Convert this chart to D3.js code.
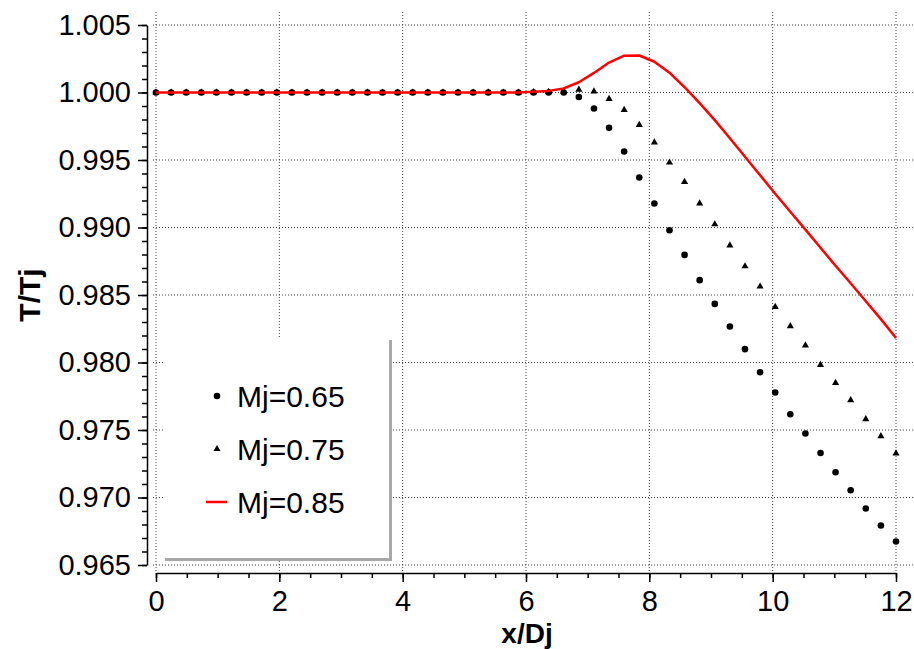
<!DOCTYPE html>
<html>
<head>
<meta charset="utf-8">
<script src="https://cdn.jsdelivr.net/npm/d3@7"></script>
<style>
    body { margin: 0; background: #ffffff; }
    svg { display: block; font-family: Arial, "Liberation Sans", sans-serif; }
</style>
</head>
<body>
<svg id="chart" width="914" height="649"></svg>
<script>
// Sample positions along the jet axis (same for all three cases)
const xPos = [
    0, 0.245, 0.490, 0.735, 0.980, 1.224, 1.469, 1.714, 1.959, 2.204,
    2.449, 2.694, 2.939, 3.184, 3.429, 3.673, 3.918, 4.163, 4.408, 4.653,
    4.898, 5.143, 5.388, 5.633, 5.878, 6.122, 6.367, 6.612, 6.857, 7.102,
    7.347, 7.592, 7.837, 8.082, 8.327, 8.571, 8.816, 9.061, 9.306, 9.551,
    9.796, 10.041, 10.286, 10.531, 10.776, 11.020, 11.265, 11.510, 11.755, 12.000
];

// T/Tj for Mj=0.65 (circles)
const mj065 = [
    1.0000, 1.0000, 1.0000, 1.0000, 1.0000, 1.0000, 1.0000, 1.0000, 1.0000, 1.0000,
    1.0000, 1.0000, 1.0000, 1.0000, 1.0000, 1.0000, 1.0000, 1.0000, 1.0000, 1.0000,
    1.0000, 1.0000, 1.0000, 1.0000, 1.0000, 1.0000, 1.0000, 1.0000, 0.99967, 0.99881,
    0.99738, 0.99563, 0.99370, 0.99178, 0.98980, 0.98797, 0.98610, 0.98434, 0.98267, 0.98099,
    0.97928, 0.97778, 0.97617, 0.97474, 0.97330, 0.97187, 0.97054, 0.96919, 0.96793, 0.96674
];

// T/Tj for Mj=0.75 (triangles)
const mj075 = [
    1.0000, 1.0000, 1.0000, 1.0000, 1.0000, 1.0000, 1.0000, 1.0000, 1.0000, 1.0000,
    1.0000, 1.0000, 1.0000, 1.0000, 1.0000, 1.0000, 1.0000, 1.0000, 1.0000, 1.0000,
    1.0000, 1.0000, 1.0000, 1.0000, 1.0000, 1.00002, 1.00005, 1.00008, 1.00021, 1.00008,
    0.99953, 0.99871, 0.99760, 0.99630, 0.99481, 0.99338, 0.99178, 0.99024, 0.98867, 0.98713,
    0.98563, 0.98412, 0.98269, 0.98126, 0.97982, 0.97849, 0.97721, 0.97580, 0.97454, 0.97326
];

// T/Tj for Mj=0.85 (red line)
const mj085 = [
    1.0000, 1.0000, 1.0000, 1.0000, 1.0000, 1.0000, 1.0000, 1.0000, 1.0000, 1.0000,
    1.0000, 1.0000, 1.0000, 1.0000, 1.0000, 1.0000, 1.0000, 1.0000, 1.0000, 1.0000,
    1.0000, 1.0000, 1.0000, 1.0000, 1.0000, 1.00006, 1.00012, 1.00030, 1.00076, 1.00145,
    1.00222, 1.00273, 1.00274, 1.00228, 1.00147, 1.00039, 0.99921, 0.99795, 0.99661, 0.99524,
    0.99387, 0.99250, 0.99117, 0.98984, 0.98850, 0.98717, 0.98587, 0.98454, 0.98321, 0.98182
];

const seriesNames = ['Mj=0.65', 'Mj=0.75', 'Mj=0.85'];
const xTicks = [0, 2, 4, 6, 8, 10, 12];
const yTicks = [0.965, 0.970, 0.975, 0.980, 0.985, 0.990, 0.995, 1.000, 1.005];

const drawChart = () => {
    const svg = d3.select('#chart');

    // Scales
    const x = d3.scaleLinear().domain([0, 12]).range([156, 896]);
    const y = d3.scaleLinear().domain([0.965, 1.005]).range([565, 25]);

    const axisColor = '#000000';
    const gridColor = '#444444';
    const lineColor = '#ff0000';

    // Dotted grid
    svg.append('g')
        .selectAll('line')
        .data(xTicks)
        .enter()
        .append('line')
        .attr('x1', d => x(d)).attr('x2', d => x(d))
        .attr('y1', 12).attr('y2', 572)
        .attr('stroke', gridColor)
        .attr('stroke-width', 1)
        .attr('stroke-dasharray', '1,2');

    svg.append('g')
        .selectAll('line')
        .data(yTicks)
        .enter()
        .append('line')
        .attr('x1', 153).attr('x2', 914)
        .attr('y1', d => y(d)).attr('y2', d => y(d))
        .attr('stroke', gridColor)
        .attr('stroke-width', 1)
        .attr('stroke-dasharray', '1,2');

    // Axes (offset from the plot area)
    const yAxis = svg.append('g')
        .attr('transform', 'translate(147,0)')
        .call(d3.axisLeft(y).tickValues(yTicks).tickSize(9).tickSizeOuter(0)
            .tickPadding(7).tickFormat(d3.format('.3f')));
    const yMinor = svg.append('g')
        .attr('transform', 'translate(147,0)')
        .call(d3.axisLeft(y).tickValues(d3.range(0.965, 1.0051, 0.001)).tickSize(5)
            .tickSizeOuter(0).tickFormat(''));
    yMinor.select('.domain').remove();

    const xAxis = svg.append('g')
        .attr('transform', 'translate(0,573)')
        .call(d3.axisBottom(x).tickValues(xTicks).tickSize(9).tickSizeOuter(0)
            .tickPadding(8).tickFormat(d3.format('d')));
    const xMinor = svg.append('g')
        .attr('transform', 'translate(0,573)')
        .call(d3.axisBottom(x).tickValues(d3.range(0, 12.01, 0.5)).tickSize(5)
            .tickSizeOuter(0).tickFormat(''));
    xMinor.select('.domain').remove();

    [yAxis, yMinor, xAxis, xMinor].forEach(g => {
        g.selectAll('path, line').attr('stroke', axisColor).attr('stroke-width', 1.5);
        g.selectAll('text')
            .attr('fill', '#000')
            .style('font-size', '29px')
            .style('font-family', 'Arial, "Liberation Sans", sans-serif');
    });

    // Axis titles
    svg.append('text')
        .attr('x', 527).attr('y', 643)
        .attr('text-anchor', 'middle')
        .style('font-size', '28px').style('font-weight', 'bold')
        .text('x/Dj');

    svg.append('text')
        .attr('transform', 'translate(40,295) rotate(-90)')
        .attr('text-anchor', 'middle')
        .style('font-size', '30px').style('font-weight', 'bold')
        .text('T/Tj');

    // Legend box with grey drop shadow on right and bottom
    svg.append('rect')
        .attr('x', 163).attr('y', 338)
        .attr('width', 227).attr('height', 222)
        .attr('fill', '#ffffff');
    svg.append('path')
        .attr('d', 'M165,559.5H390.5V340')
        .attr('fill', 'none')
        .attr('stroke', '#a8a8a8')
        .attr('stroke-width', 3);

    const legendY = [396, 449, 502];
    svg.append('circle')
        .attr('cx', 217).attr('cy', legendY[0]).attr('r', 3.3)
        .attr('fill', '#000');
    svg.append('path')
        .attr('d', d3.symbol(d3.symbolTriangle, 22)())
        .attr('transform', `translate(217,${legendY[1]})`)
        .attr('fill', '#000');
    svg.append('line')
        .attr('x1', 206).attr('x2', 227)
        .attr('y1', legendY[2]).attr('y2', legendY[2])
        .attr('stroke', lineColor).attr('stroke-width', 2.5);

    svg.append('g')
        .selectAll('text')
        .data(seriesNames)
        .enter()
        .append('text')
        .attr('x', 237)
        .attr('y', (d, i) => legendY[i])
        .attr('dy', '0.35em')
        .style('font-size', '30px')
        .text(d => d);

    // Mj=0.65 circles
    svg.append('g')
        .selectAll('circle')
        .data(mj065)
        .enter()
        .append('circle')
        .attr('cx', (d, i) => x(xPos[i]))
        .attr('cy', d => y(d))
        .attr('r', 3.3)
        .attr('fill', '#000');

    // Mj=0.75 triangles
    svg.append('g')
        .selectAll('path')
        .data(mj075)
        .enter()
        .append('path')
        .attr('d', d3.symbol(d3.symbolTriangle, 22)())
        .attr('transform', (d, i) => `translate(${x(xPos[i])},${y(d)})`)
        .attr('fill', '#000');

    // Mj=0.85 line
    const line = d3.line()
        .x((d, i) => x(xPos[i]))
        .y(d => y(d));
    svg.append('path')
        .datum(mj085)
        .attr('d', line)
        .attr('fill', 'none')
        .attr('stroke', lineColor)
        .attr('stroke-width', 2.5)
        .attr('stroke-linejoin', 'round');
};
drawChart();
</script>
</body>
</html>
